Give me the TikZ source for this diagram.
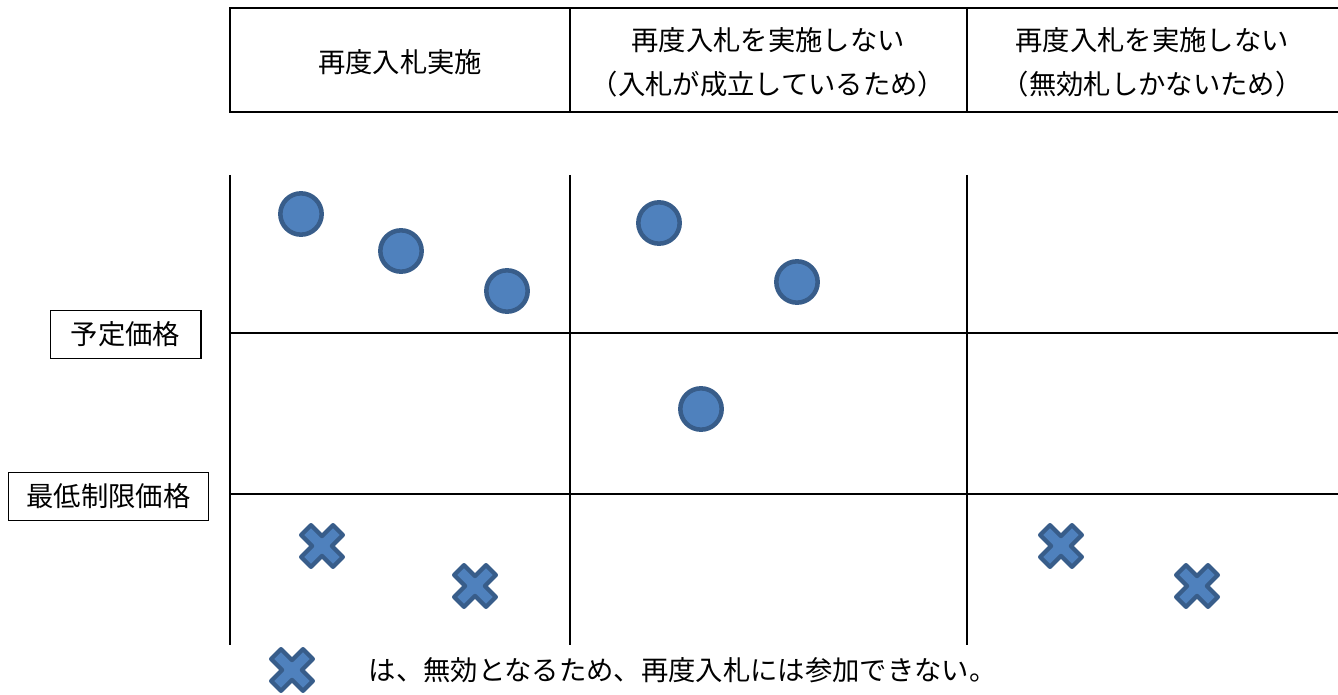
\documentclass[tikz,border=0pt]{standalone}
\usepackage{fontspec}
\setmainfont{Noto Sans CJK JP}
\usetikzlibrary{positioning, calc}

\definecolor{bidfill}{HTML}{4F81BD}
\definecolor{bidline}{HTML}{385D8A}

\tikzset{
	grid line/.style={line width=1.6pt},
	head text/.style={align=center, font=\fontsize{20.5}{33}\selectfont},
	price box/.style={draw, line width=1pt, minimum height=36pt, inner xsep=8pt, font=\fontsize{20.5}{24}\selectfont},
	valid bid/.style={circle, fill=bidfill, draw=bidline, line width=3.4pt, minimum size=31pt, inner sep=0pt},
	void bid/.pic={
		\draw[fill=bidfill, draw=bidline, line width=3.2pt, line join=round, rotate=45]
			(-7,-22.5) -- (7,-22.5) -- (7,-7) -- (22.5,-7) -- (22.5,7) -- (7,7)
			-- (7,22.5) -- (-7,22.5) -- (-7,7) -- (-22.5,7) -- (-22.5,-7) -- (-7,-7) -- cycle;
	}
}

\begin{document}
\begin{tikzpicture}[x=0.75pt, y=-0.75pt]
	\useasboundingbox (0,0) rectangle (1338,695);

	% header
	\coordinate (H0) at (230,8);
	\coordinate (H1) at (570,8);
	\coordinate (H2) at (967,8);
	\draw[grid line] (1338,8) -- (H0) -- (230,112) -- (1338,112);
	\draw[grid line] (H1) -- (570,112);
	\draw[grid line] (H2) -- (967,112);
	\node[head text] (retender) at (400,62) {再度入札実施};
	\node[head text] (formed) at (768,62) {再度入札を実施しない\\（入札が成立しているため）};
	\node[head text] (invalid) at (1152,62) {再度入札を実施しない\\（無効札しかないため）};

	% grid
	\draw[grid line] (230,175) -- (230,645);
	\draw[grid line] (570,175) -- (570,645);
	\draw[grid line] (967,175) -- (967,645);
	\coordinate (planned) at (230,333);
	\coordinate (minimum) at (230,494);
	\draw[grid line] (planned) -- (1338,333);
	\draw[grid line] (minimum) -- (1338,494);

	\node[price box, minimum width=113pt] (plannedlabel) at (125.5,334.5) {予定価格};
	\node[price box, minimum width=150pt] (minimumlabel) at (108.5,496.5) {最低制限価格};

	% bids
	\foreach \name/\x/\y in {b1/301/214, b2/401/251, b3/507/291, b4/659/223, b5/797/282, b6/701/409}
		\node[valid bid] (\name) at (\x,\y) {};
	\foreach \x/\y in {322/546, 475/586, 1061/546, 1197/586}
		\pic at (\x,\y) {void bid};

	% legend
	\pic at (292,670) {void bid};
	\node[anchor=west, font=\fontsize{20.5}{24}\selectfont] (legend) at (364,670) {は、無効となるため、再度入札には参加できない。};
\end{tikzpicture}
\end{document}
